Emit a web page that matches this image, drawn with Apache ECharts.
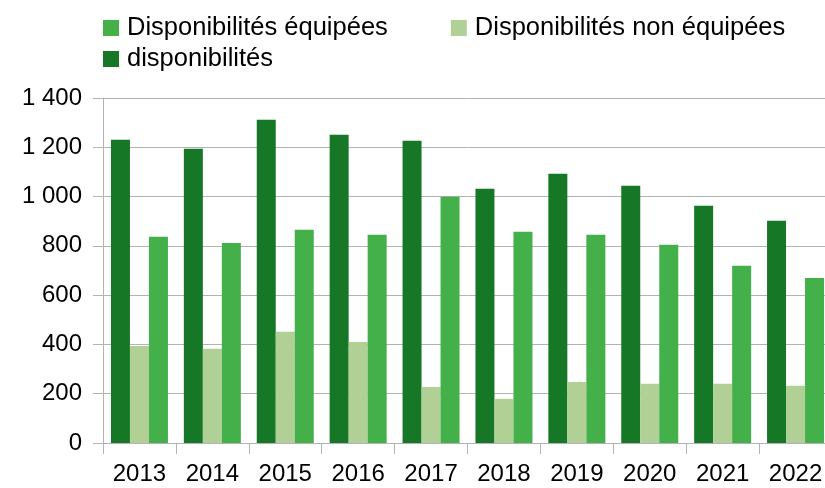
<!DOCTYPE html>
<html>
<head>
<meta charset="utf-8">
<script src="https://cdn.jsdelivr.net/npm/echarts@6.0.0/dist/echarts.min.js"></script>
<style>
  html, body { margin: 0; padding: 0; background: #fff; overflow: hidden; }
  #chart { width: 832px; height: 488px; }
</style>
</head>
<body>
<div id="chart"></div>
<script>
"use strict";
// données
var years = ["2013", "2014", "2015", "2016", "2017", "2018", "2019", "2020", "2021", "2022"];
var dispo = [1231, 1194, 1312, 1251, 1227, 1032, 1093, 1044, 963, 902];
var nonEquipees = [394, 382, 451, 410, 227, 179, 248, 240, 240, 232];
var equipees = [837, 812, 865, 845, 999, 857, 845, 804, 719, 670];

var fontFam = "Liberation Sans";
var grey = "#b3b3b3";

function fmt(v) {
    // séparateur de milliers : espace
    return String(v).replace(/\B(?=(\d{3})+(?!\d))/g, " ");
}

var legendText = { fontFamily: fontFam, fontSize: 25.5, color: "#000", padding: [0, 0, 0, 3] };

var option = {
    animation: false,
    backgroundColor: "#fff",
    legend: [
        {
            data: ["Disponibilités équipées", "Disponibilités non équipées"],
            left: 103,
            top: 15,
            padding: 0,
            itemGap: 63,
            icon: "rect",
            itemWidth: 16,
            itemHeight: 16,
            textStyle: legendText
        },
        {
            data: ["disponibilités"],
            left: 103,
            top: 46,
            padding: 0,
            icon: "rect",
            itemWidth: 16,
            itemHeight: 16,
            textStyle: legendText
        }
    ],
    // la zone de tracé dépasse le bord droit de l'image, comme dans l'original
    grid: {
        left: 103,
        right: 0,
        top: 98,
        bottom: 45
    },
    xAxis: {
        type: "category",
        data: years,
        boundaryGap: true,
        axisLine: { show: true, lineStyle: { color: grey, width: 1 } },
        axisTick: { show: true, length: 11, lineStyle: { color: grey } },
        axisLabel: { fontFamily: fontFam, fontSize: 24, color: "#000", margin: 19 },
        splitLine: { show: false }
    },
    yAxis: {
        type: "value",
        min: 0,
        max: 1400,
        interval: 200,
        axisLine: { show: true, lineStyle: { color: grey, width: 1 } },
        axisTick: { show: true, length: 10, lineStyle: { color: grey } },
        axisLabel: {
            fontFamily: fontFam, fontSize: 24, color: "#000", margin: 21,
            formatter: function (v) { return fmt(v); }
        },
        splitLine: { show: true, lineStyle: { color: grey, width: 1 } }
    },
    series: [
        {
            name: "disponibilités",
            type: "bar",
            data: dispo,
            barWidth: 19,
            barGap: "0%",
            itemStyle: { color: "#167826" }
        },
        {
            name: "Disponibilités non équipées",
            type: "bar",
            data: nonEquipees,
            barWidth: 19,
            barGap: "0%",
            itemStyle: { color: "#b0d096" }
        },
        {
            name: "Disponibilités équipées",
            type: "bar",
            data: equipees,
            barWidth: 19,
            barGap: "0%",
            itemStyle: { color: "#43b04a" }
        }
    ]
};

var chart = echarts.init(document.getElementById("chart"));
chart.setOption(option);
</script>
</body>
</html>
